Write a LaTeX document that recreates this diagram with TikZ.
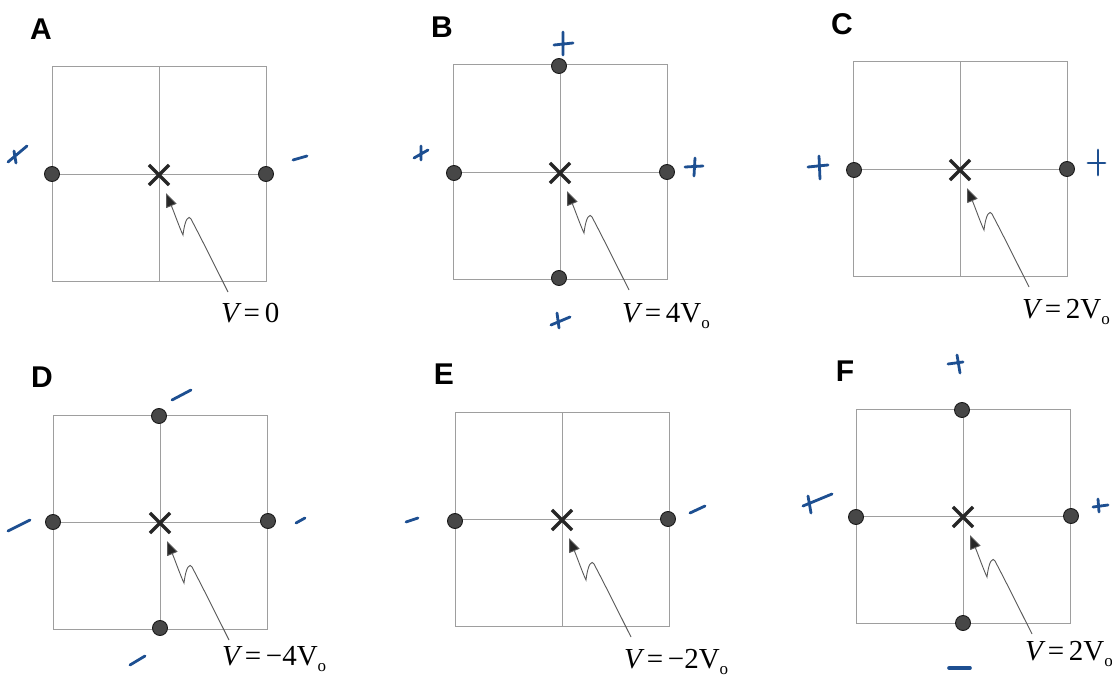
\documentclass[tikz,border=0pt]{standalone}
\usepackage{fontspec}
\setmainfont{Liberation Serif}
\newfontfamily\lettfont{Liberation Sans}
\usetikzlibrary{shapes.misc,arrows.meta}
\definecolor{ink}{HTML}{1D4F91}
\tikzset{
 gridline/.style={draw=black!38, line width=1pt},
 xmark/.style={draw=black!85, cross out, minimum size=17pt, inner sep=0pt, line width=3.2pt},
 chargedot/.style={circle, fill=black!72, draw=black!90, line width=0.9pt, minimum size=15pt, inner sep=0pt},
 letter/.style={font=\lettfont\bfseries\fontsize{30}{30}\selectfont, inner sep=0pt},
 vlabel/.style={font=\fontsize{29}{29}\selectfont, inner sep=0pt, anchor=base west},
 wig/.style={draw=black!65, line width=0.9pt, -{Triangle[length=14pt,width=11pt,fill=black!85]}},
 chg/.style={draw=ink, line width=2.8pt, line cap=round},
}
\newcommand\Vsub{V\raisebox{-0.22em}{\fontsize{17}{17}\selectfont o}}
% #1 cx, #2 cy, #3 name, #4 label text, #5 baseline offset
\newcommand\panelgrid[5]{%
 \begin{scope}[shift={(#1,#2)}]
  \draw[gridline] (-107,-107) rectangle (107,107);
  \draw[gridline] (-107,0) -- (107,0) (0,-107) -- (0,107);
  \node[xmark] (x#3) at (0,1) {};
  \node[letter] (L#3) at (-118,-145) {#3};
  \node[vlabel] (v#3) at (62,#5) {#4};
  \coordinate (e#3) at (69,118);
  \coordinate (t#3) at (7,19);
  \draw[wig] (e#3) .. controls (56,92) and (41,62) .. (32,45)
     .. controls (30,41) and (26,44) .. (24,61)
     .. controls (21,55) and (15,38) .. (t#3);
 \end{scope}}
\begin{document}
\begin{tikzpicture}[x=1pt,y=-1pt]
\useasboundingbox (0,0) rectangle (1112,677);
\fill[white] (0,0) rectangle (1112,677);
% panels
\panelgrid{159}{174}{A}{{\itshape V}\,=\,0}{148}
\panelgrid{560}{172}{B}{{\itshape V}\,=\,4\Vsub}{150}
\panelgrid{960}{169}{C}{{\itshape V}\,=\,2\Vsub}{149}
\panelgrid{160}{522}{D}{{\itshape V}\,=\,\char"2212 4\Vsub}{143}
\panelgrid{562}{519}{E}{{\itshape V}\,=\,\char"2212 2\Vsub}{149}
\panelgrid{963}{516}{F}{{\itshape V}\,=\,2\Vsub}{144}
% dots
\node[chargedot] (a1) at (52,174) {};
\node[chargedot] (a2) at (266,174) {};
\node[chargedot] (b1) at (559,66) {};
\node[chargedot] (b2) at (454,173) {};
\node[chargedot] (b3) at (667,172) {};
\node[chargedot] (b4) at (559,278) {};
\node[chargedot] (c1) at (854,170) {};
\node[chargedot] (c2) at (1067,169) {};
\node[chargedot] (d1) at (159,416) {};
\node[chargedot] (d2) at (53,522) {};
\node[chargedot] (d3) at (268,521) {};
\node[chargedot] (d4) at (160,628) {};
\node[chargedot] (e1) at (455,521) {};
\node[chargedot] (e2) at (668,519) {};
\node[chargedot] (f1) at (962,410) {};
\node[chargedot] (f2) at (856,517) {};
\node[chargedot] (f3) at (1071,516) {};
\node[chargedot] (f4) at (963,623) {};
% handwritten charges
\draw[chg] (8,162) -- (27,146) (14,151) -- (16,163);
\draw[chg] (293,160) -- (307,156);
\draw[chg] (554,45) -- (573,43) (563,32) -- (563,55);
\draw[chg] (414,158) -- (428,150) (421,146) -- (421,160);
\draw[chg] (685,167) -- (703,166) (695,158) -- (694,176);
\draw[chg] (551,325) -- (570,317) (557,313) -- (559,328);
\draw[chg] (808,167) -- (828,165) (819,156) -- (820,179);
\draw[chg] (1088,163) -- (1105,163) (1098,150) -- (1098,175);
\draw[chg] (172,400) -- (191,390);
\draw[chg] (8,531) -- (30,520);
\draw[chg] (296,523) -- (305,518);
\draw[chg] (130,665) -- (145,656);
\draw[chg] (406,522) -- (418,518);
\draw[chg] (690,513) -- (705,506);
\draw[chg] (948,364) -- (963,362) (957,355) -- (960,373);
\draw[chg] (803,506) -- (832,494) (808,496) -- (811,513);
\draw[chg] (1093,507) -- (1108,505) (1098,499) -- (1099,512);
\draw[chg, line width=3.6pt] (949,668) -- (970,668);
\end{tikzpicture}
\end{document}
